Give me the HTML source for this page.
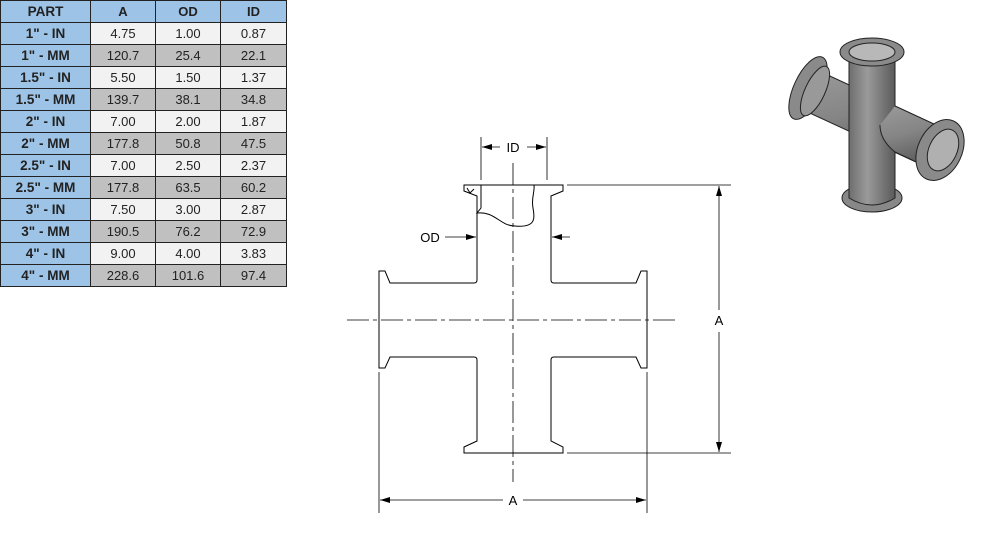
<!DOCTYPE html>
<html><head><meta charset="utf-8"><style>
body{margin:0;width:987px;height:557px;background:#fff;position:relative;overflow:hidden;font-family:"Liberation Sans",sans-serif}
table{position:absolute;left:0;top:0;border-collapse:collapse;width:286px;table-layout:fixed}
td{border:1px solid #222;height:21px;padding:0;text-align:center;font-size:13px;color:#222;white-space:nowrap}
td.p{background:#9dc3e6;font-weight:bold;font-size:13.5px}
tr.h td{background:#9dc3e6;font-weight:bold}
tr.l td:not(.p){background:#f2f2f2}
tr.d td:not(.p){background:#c0c0c0}
svg{position:absolute;left:0;top:0}
</style></head><body>
<table>
<colgroup><col style="width:90px"><col style="width:65px"><col style="width:65px"><col style="width:66px"></colgroup>
<tr class="h"><td class="p">PART</td><td>A</td><td>OD</td><td>ID</td></tr>
<tr class="l"><td class="p">1" - IN</td><td>4.75</td><td>1.00</td><td>0.87</td></tr>
<tr class="d"><td class="p">1" - MM</td><td>120.7</td><td>25.4</td><td>22.1</td></tr>
<tr class="l"><td class="p">1.5" - IN</td><td>5.50</td><td>1.50</td><td>1.37</td></tr>
<tr class="d"><td class="p">1.5" - MM</td><td>139.7</td><td>38.1</td><td>34.8</td></tr>
<tr class="l"><td class="p">2" - IN</td><td>7.00</td><td>2.00</td><td>1.87</td></tr>
<tr class="d"><td class="p">2" - MM</td><td>177.8</td><td>50.8</td><td>47.5</td></tr>
<tr class="l"><td class="p">2.5" - IN</td><td>7.00</td><td>2.50</td><td>2.37</td></tr>
<tr class="d"><td class="p">2.5" - MM</td><td>177.8</td><td>63.5</td><td>60.2</td></tr>
<tr class="l"><td class="p">3" - IN</td><td>7.50</td><td>3.00</td><td>2.87</td></tr>
<tr class="d"><td class="p">3" - MM</td><td>190.5</td><td>76.2</td><td>72.9</td></tr>
<tr class="l"><td class="p">4" - IN</td><td>9.00</td><td>4.00</td><td>3.83</td></tr>
<tr class="d"><td class="p">4" - MM</td><td>228.6</td><td>101.6</td><td>97.4</td></tr>
</table>
<svg width="987" height="557" viewBox="0 0 987 557">
<defs>
<marker id="ar" markerWidth="10" markerHeight="6" refX="10" refY="3" orient="auto" markerUnits="userSpaceOnUse"><path d="M0,0 L10,3 L0,6Z" fill="#000"/></marker>
<linearGradient id="g" x1="0" x2="1"><stop offset="0" stop-color="#6e6e6e"/><stop offset=".4" stop-color="#9a9a9a"/><stop offset="1" stop-color="#5a5a5a"/></linearGradient>
<linearGradient id="g2" x1="0" y1="0" x2="0.3" y2="1"><stop offset="0" stop-color="#9a9a9a"/><stop offset=".5" stop-color="#858585"/><stop offset="1" stop-color="#5a5a5a"/></linearGradient>
</defs>
<g fill="none" stroke="#000" stroke-width="1">
<path d="M464,185 L563,185 L563,191 L551,196 L551,280 Q551,283 554,283 L636,283 L641,271 L647,271 L647,368 L641,368 L636,357 L554,357 Q551,357 551,360 L551,441 L563,447 L563,453 L464,453 L464,447 L477,441 L477,360 Q477,357 474,357 L390,357 L385,368 L379,368 L379,271 L385,271 L390,283 L474,283 Q477,283 477,280 L477,196 L464,191 Z"/>
<path d="M481,185 L481,208 L477,213 C495,211 500,226 515,226 C536,228 535,218 533,208 C531,198 535,192 534,185"/>
<path d="M467,188 L470,193 L474,189"/>
<g stroke-width=".8" stroke-dasharray="22,4,4,4">
<path d="M347,320 L677,320"/><path d="M513,163 L513,482"/>
</g>
<g stroke-width=".8">
<path d="M481,137 L481,180 M547,137 L547,180"/>
<path d="M567,185 L731,185 M567,453 L731,453"/>
<path d="M379,372 L379,513 M647,372 L647,513"/>
<path d="M500,147 L482,147" marker-end="url(#ar)"/><path d="M527,147 L546,147" marker-end="url(#ar)"/>
<path d="M445,237 L476,237" marker-end="url(#ar)"/><path d="M570,237 L552,237" marker-end="url(#ar)"/>
<path d="M719,310 L719,186" marker-end="url(#ar)"/><path d="M719,332 L719,452" marker-end="url(#ar)"/>
<path d="M503,500 L380,500" marker-end="url(#ar)"/><path d="M523,500 L646,500" marker-end="url(#ar)"/>
</g>
</g>
<g font-size="13" fill="#000" text-anchor="middle">
<text x="513" y="152">ID</text><text x="430" y="242">OD</text>
<text x="719" y="325">A</text><text x="513" y="505">A</text>
</g>
<g stroke="#222" stroke-width="1">
<path d="M819,71 L949,131 L931,169 L801,109 Z" fill="url(#g2)"/>
<ellipse cx="808" cy="88" rx="14" ry="34" fill="#8a8a8a" transform="rotate(25 808 88)"/>
<ellipse cx="815" cy="91" rx="10" ry="27" fill="#999" transform="rotate(25 815 91)"/>
<rect x="849" y="50" width="46" height="150" fill="url(#g)"/>
<path d="M895,106 L949,131 L931,169 L895,152 Q880,140 880,125 Z" fill="url(#g2)" stroke="none"/>
<path d="M895,106 L949,131 M931,169 L895,152 Q880,140 880,125" fill="none"/>
<ellipse cx="872" cy="198" rx="30" ry="14" fill="#888"/>
<path d="M849,183 L849,198 Q872,212 895,198 L895,183" fill="url(#g)"/>
<ellipse cx="940" cy="150" rx="22" ry="32" fill="#8a8a8a" transform="rotate(25 940 150)"/>
<ellipse cx="943" cy="150" rx="14" ry="22" fill="#b0b0b0" transform="rotate(25 943 150)"/>
<ellipse cx="872" cy="52" rx="32" ry="14" fill="#8a8a8a"/>
<ellipse cx="872" cy="52" rx="23" ry="9" fill="#b8b8b8"/>
</g>
</svg>
</body></html>
